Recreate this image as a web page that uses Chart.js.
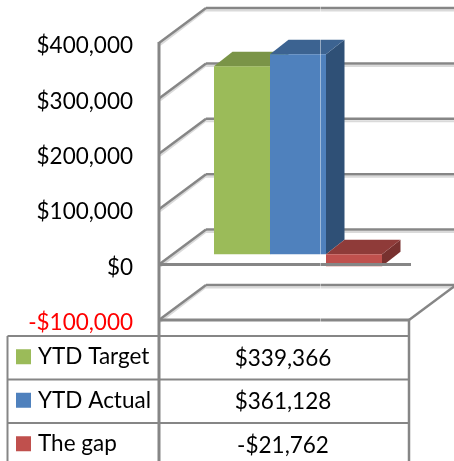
<!DOCTYPE html>
<html>
<head>
<meta charset="utf-8">
<style>
    html, body { margin: 0; padding: 0; background: #fff; }
    #wrap { width: 454px; height: 461px; position: relative; overflow: hidden; }
</style>
<script src="https://cdn.jsdelivr.net/npm/chart.js@4"></script>
</head>
<body>
<div id="wrap"><canvas id="gapChart" width="454" height="461"></canvas></div>
<script>
//-- chart data --
const categories = [""];
const seriesNames = ["YTD Target", "YTD Actual", "The gap"];
const seriesValues = [339366, 361128, -21762];
const seriesLabels = ["$339,366", "$361,128", "-$21,762"];
const frontColors = ["#9BBB59", "#4F81BD", "#C0504D"];
const topColors = ["#7A9447", "#3C6391", "#8F3B39"];
const sideColors = ["#66793B", "#2F5076", "#78312F"];
const yMin = -100000;
const yMax = 400000;
const yStep = 100000;

//-- depth of the fake 3d box, and how far the bars sit inside it --
const WALL_DX = 47, WALL_DY = -35;
const BAR_SHIFT_X = 14, BAR_SHIFT_Y = -10.3;
const BAR_DX = 18.5, BAR_DY = -14.5;
const LINE_DARK = "#868686", LINE_LIGHT = "#DADADA";
const FONT = "22.5px Lato";

function money(v) {
    const s = "$" + Math.abs(v).toLocaleString("en-US");
    return v < 0 ? "-" + s : s;
}

function seg(ctx, x1, y1, x2, y2, color, width) {
    ctx.strokeStyle = color;
    ctx.lineWidth = width;
    ctx.beginPath();
    ctx.moveTo(x1, y1);
    ctx.lineTo(x2, y2);
    ctx.stroke();
}

function poly(ctx, color, pts) {
    ctx.fillStyle = color;
    ctx.beginPath();
    pts.forEach((p, i) => i ? ctx.lineTo(p[0], p[1]) : ctx.moveTo(p[0], p[1]));
    ctx.closePath();
    ctx.fill();
}

//-- walls, bar sides and the data table --
const box3d = {
    id: "box3d",
    beforeDatasetsDraw(chart) {
        const { ctx, chartArea: a, scales: { y } } = chart;
        ctx.save();
        //-- side wall + back wall lines --
        y.ticks.forEach(t => {
            const py = y.getPixelForValue(t.value);
            seg(ctx, a.left + 1, py + 2, a.left + WALL_DX, py + WALL_DY + 2, LINE_LIGHT, 2);
            seg(ctx, a.left + WALL_DX, py + WALL_DY + 2.5, 454, py + WALL_DY + 2.5, LINE_LIGHT, 2);
            seg(ctx, a.left, py, a.left + WALL_DX, py + WALL_DY, LINE_DARK, 2.5);
            seg(ctx, a.left + WALL_DX, py + WALL_DY, 454, py + WALL_DY, LINE_DARK, 2.5);
        });
        //-- tops and sides of the bars --
        chart.data.datasets.forEach((ds, i) => {
            const bar = chart.getDatasetMeta(i).data[0];
            const l = bar.x - bar.width / 2 + BAR_SHIFT_X, r = bar.x + bar.width / 2 + BAR_SHIFT_X;
            const top = Math.min(bar.y, bar.base) + BAR_SHIFT_Y, bot = Math.max(bar.y, bar.base) + BAR_SHIFT_Y;
            poly(ctx, sideColors[i], [[r, top], [r + BAR_DX, top + BAR_DY], [r + BAR_DX, bot + BAR_DY], [r, bot]]);
            poly(ctx, topColors[i], [[l, top], [l + BAR_DX, top + BAR_DY], [r + BAR_DX, top + BAR_DY], [r, top]]);
        });
        ctx.restore();
        //-- bars themselves get drawn shifted into the box --
        ctx.save();
        ctx.translate(BAR_SHIFT_X, BAR_SHIFT_Y);
    },
    afterDatasetsDraw(chart) {
        const { ctx, chartArea: a, scales: { y } } = chart;
        ctx.restore();
        ctx.save();
        const zero = y.getPixelForValue(0), bottom = y.getPixelForValue(yMin);
        //-- front edges --
        seg(ctx, a.left, a.top - 1, a.left, 461, LINE_DARK, 3);
        seg(ctx, a.left, zero, a.right + 2, zero, LINE_DARK, 3);
        seg(ctx, a.left, bottom, a.right + 1, bottom, LINE_DARK, 3);
        seg(ctx, a.right, bottom, a.right + WALL_DX, bottom + WALL_DY, LINE_DARK, 2.5);

        //-- thin pale line that runs down the whole plot --
        seg(ctx, 320.5, 0, 320.5, bottom + 2, "rgba(255,255,255,0.45)", 1);

        //-- data table --
        const rows = [336, 379.5, 423];
        const rowH = 43.5;
        const tableLeft = 7.5;
        rows.forEach(ry => seg(ctx, tableLeft, ry, a.right, ry, LINE_DARK, 2));
        seg(ctx, tableLeft, rows[0], tableLeft, 461, LINE_DARK, 2);
        seg(ctx, a.right, bottom, a.right, 461, LINE_DARK, 2.5);

        ctx.font = FONT;
        ctx.textBaseline = "middle";
        seriesNames.forEach((name, i) => {
            const cy = rows[i] + rowH / 2 - 1;
            ctx.fillStyle = frontColors[i];
            ctx.fillRect(16, cy - 7.5, 15, 15);
            ctx.fillStyle = "#000";
            ctx.textAlign = "left";
            ctx.fillText(name, 38, cy);
            ctx.textAlign = "center";
            ctx.fillText(seriesLabels[i], (a.left + a.right) / 2 - 1, cy + 1.5);
        });
        ctx.restore();
    }
};

new Chart(document.getElementById("gapChart").getContext("2d"), {
    type: "bar",
    data: {
        labels: categories,
        datasets: seriesNames.map((name, i) => ({
            label: name,
            data: [seriesValues[i]],
            backgroundColor: frontColors[i],
            borderWidth: 0,
            clip: false
        }))
    },
    options: {
        responsive: false,
        animation: false,
        events: [],
        layout: { padding: { left: 0, right: 45, top: 43, bottom: 141 } },
        datasets: { bar: { barPercentage: 1, categoryPercentage: 0.672 } },
        plugins: { legend: { display: false }, tooltip: { enabled: false }, title: { display: false } },
        scales: {
            x: { display: false },
            y: {
                min: yMin,
                max: yMax,
                afterFit(scale) { scale.width = 159; },
                grid: { display: false, drawTicks: false },
                border: { display: false },
                ticks: {
                    stepSize: yStep,
                    padding: 26,
                    labelOffset: 3,
                    font: { family: "Lato", size: 22.5 },
                    color: c => c.tick.value < 0 ? "#FF0000" : "#000000",
                    callback: v => money(v)
                }
            }
        }
    },
    plugins: [box3d]
});
</script>
</body>
</html>
